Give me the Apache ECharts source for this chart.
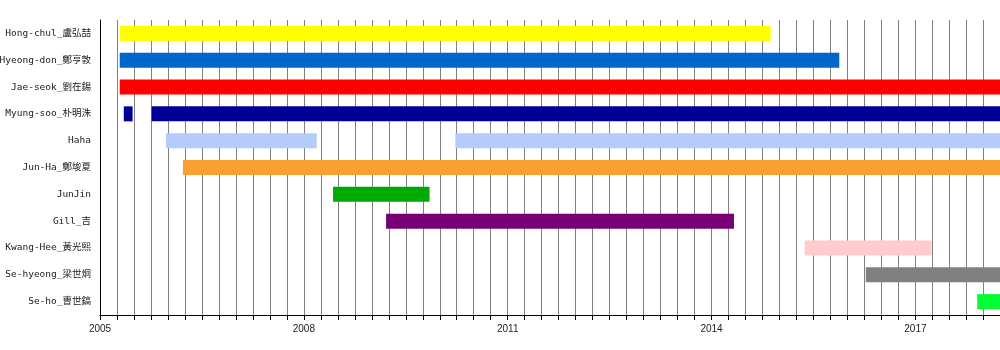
<!DOCTYPE html>
<html>
<head>
<meta charset="utf-8">
<script src="https://cdn.jsdelivr.net/npm/echarts@6/dist/echarts.min.js"></script>
<style>html,body{margin:0;padding:0;background:#fff}#c{width:1000px;height:350px}</style>
</head>
<body>
<div id="c"></div>
<script>
// Members (top to bottom)
var categories = ['Hong-chul_盧弘喆','Hyeong-don_鄭亨敦','Jae-seok_劉在錫','Myung-soo_朴明洙','Haha','Jun-Ha_鄭埈夏','JunJin','Gill_吉','Kwang-Hee_黃光熙','Se-hyeong_梁世炯','Se-ho_曺世鎬'];
// Membership periods (decimal years): member index, start, end
var segMember = [0, 1, 2, 3, 3, 4, 4, 5, 6, 7, 8, 9, 10];
var segStart  = [2005.29, 2005.29, 2005.29, 2005.35, 2005.76, 2005.97, 2010.23, 2006.22, 2008.43, 2009.21, 2015.37, 2016.27, 2017.91];
var segEnd    = [2014.87, 2015.88, 2018.5, 2005.48, 2018.5, 2008.19, 2018.5, 2018.5, 2009.85, 2014.33, 2017.24, 2018.5, 2018.5];
var memberColors = ['#FFFF00','#0066CC','#FF0000','#000099','#B3CCFA','#F8A030','#00AA00','#770077','#FFCCCC','#808080','#00FF33'];
var xMin = 2005, xMax = 2018.245, xInterval = 0.25, labelEvery = 3;

var data = segMember.map(function(m, i){ return [m, segStart[i], segEnd[i]]; });

var chart = echarts.init(document.getElementById('c'));
chart.setOption({
  animation: false,
  grid: {left: 100, right: 0, top: 20, bottom: 35, containLabel: false, outerBoundsMode: 'none'},
  xAxis: {
    type: 'value', min: xMin, max: xMax, interval: xInterval,
    axisLine: {show: true, lineStyle: {color: '#000', width: 1}},
    axisTick: {show: true, length: 5, lineStyle: {color: '#000'}},
    splitLine: {show: true, showMinLine: false, showMaxLine: false, lineStyle: {color: '#808080', width: 1}},
    axisLabel: {
      margin: 9, color: '#222', fontFamily: 'Liberation Sans', fontSize: 10,
      showMaxLabel: false,
      formatter: function(v){
        var d = v - xMin;
        if (Math.abs(d / labelEvery - Math.round(d / labelEvery)) < 1e-6) return String(Math.round(v));
        return '';
      }
    }
  },
  yAxis: {
    type: 'category', data: categories, inverse: true,
    axisLine: {show: true, lineStyle: {color: '#000', width: 1}},
    axisTick: {show: false},
    splitLine: {show: false},
    axisLabel: {margin: 9, color: '#1a1a1a', fontFamily: '"DejaVu Sans Mono", "Noto Sans CJK KR", monospace', fontSize: 9.5}
  },
  series: [{
    type: 'custom',
    clip: true,
    encode: {x: [1, 2], y: 0},
    data: data,
    renderItem: function(params, api){
      var m = api.value(0);
      var s = api.coord([api.value(1), m]);
      var e = api.coord([api.value(2), m]);
      var h = 15;
      var rect = echarts.graphic.clipRectByRect({x: s[0], y: s[1] - h/2, width: e[0] - s[0], height: h}, {
        x: params.coordSys.x, y: params.coordSys.y, width: params.coordSys.width, height: params.coordSys.height
      });
      return rect && {type: 'rect', shape: rect, style: {fill: memberColors[m]}};
    }
  }]
});
</script>
</body>
</html>
